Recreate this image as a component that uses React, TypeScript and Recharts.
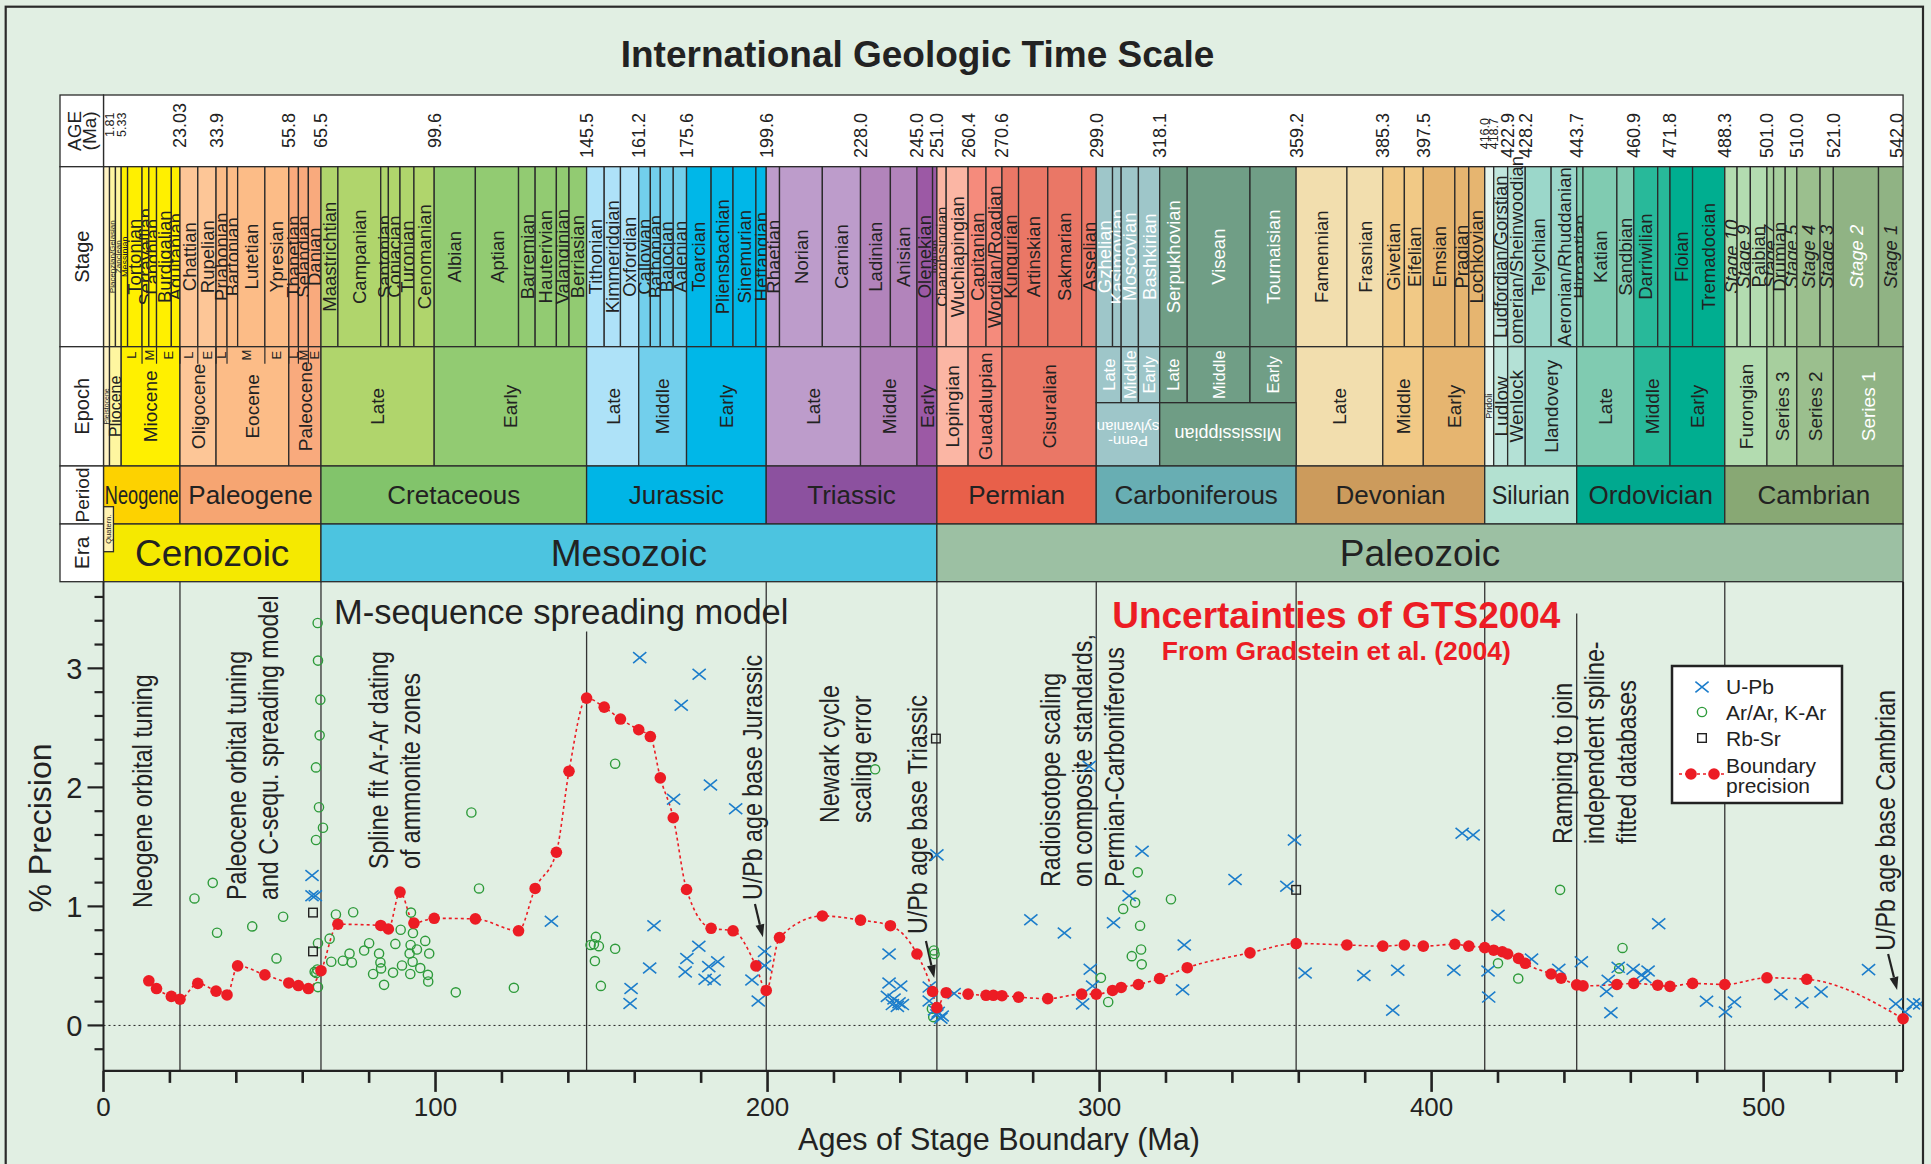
import React from "react";
import {
  ComposedChart,
  Line,
  Scatter,
  XAxis,
  YAxis,
  ReferenceArea,
  ReferenceLine,
  ReferenceDot,
} from "recharts";

// ---------- data ----------

const eras = [
  { name: "Cenozoic", start: 0, end: 65.5 },
  { name: "Mesozoic", start: 65.5, end: 251.0 },
  { name: "Paleozoic", start: 251.0, end: 542.0 },
];

const periods = [
  { name: "Neogene", start: 0, end: 23.03 },
  { name: "Paleogene", start: 23.03, end: 65.5 },
  { name: "Cretaceous", start: 65.5, end: 145.5 },
  { name: "Jurassic", start: 145.5, end: 199.6 },
  { name: "Triassic", start: 199.6, end: 251.0 },
  { name: "Permian", start: 251.0, end: 299.0 },
  { name: "Carboniferous", start: 299.0, end: 359.2 },
  { name: "Devonian", start: 359.2, end: 416.0 },
  { name: "Silurian", start: 416.0, end: 443.7 },
  { name: "Ordovician", start: 443.7, end: 488.3 },
  { name: "Cambrian", start: 488.3, end: 542.0 },
];

const epochs = [
  { id: "Q1", name: "Pleistocene", start: 0, end: 1.81 },
  { id: "N2", name: "Pliocene", start: 1.81, end: 5.33 },
  { id: "N1", name: "Miocene", start: 5.33, end: 23.03 },
  { id: "Pg3", name: "Oligocene", start: 23.03, end: 33.9 },
  { id: "Pg2", name: "Eocene", start: 33.9, end: 55.8 },
  { id: "Pg1", name: "Paleocene", start: 55.8, end: 65.5 },
  { id: "K2", name: "Late", start: 65.5, end: 99.6 },
  { id: "K1", name: "Early", start: 99.6, end: 145.5 },
  { id: "J3", name: "Late", start: 145.5, end: 161.2 },
  { id: "J2", name: "Middle", start: 161.2, end: 175.6 },
  { id: "J1", name: "Early", start: 175.6, end: 199.6 },
  { id: "T3", name: "Late", start: 199.6, end: 228.0 },
  { id: "T2", name: "Middle", start: 228.0, end: 245.0 },
  { id: "T1", name: "Early", start: 245.0, end: 251.0 },
  { id: "P3", name: "Lopingian", start: 251.0, end: 260.4 },
  { id: "P2", name: "Guadalupian", start: 260.4, end: 270.6 },
  { id: "P1", name: "Cisuralian", start: 270.6, end: 299.0 },
  { id: "C3P", name: "Late", start: 299.0, end: 306.5 },
  { id: "C2P", name: "Middle", start: 306.5, end: 311.7 },
  { id: "C1P", name: "Early", start: 311.7, end: 318.1 },
  { id: "C3M", name: "Late", start: 318.1, end: 326.4 },
  { id: "C2M", name: "Middle", start: 326.4, end: 345.3 },
  { id: "C1M", name: "Early", start: 345.3, end: 359.2 },
  { id: "D3", name: "Late", start: 359.2, end: 385.3 },
  { id: "D2", name: "Middle", start: 385.3, end: 397.5 },
  { id: "D1", name: "Early", start: 397.5, end: 416.0 },
  { id: "S4", name: "Pridoli", start: 416.0, end: 418.7 },
  { id: "S3", name: "Ludlow", start: 418.7, end: 422.9 },
  { id: "S2", name: "Wenlock", start: 422.9, end: 428.2 },
  { id: "S1", name: "Llandovery", start: 428.2, end: 443.7 },
  { id: "O3", name: "Late", start: 443.7, end: 460.9 },
  { id: "O2", name: "Middle", start: 460.9, end: 471.8 },
  { id: "O1", name: "Early", start: 471.8, end: 488.3 },
  { id: "Cm4", name: "Furongian", start: 488.3, end: 501.0 },
  { id: "Cm3", name: "Series 3", start: 501.0, end: 510.0 },
  { id: "Cm2", name: "Series 2", start: 510.0, end: 521.0 },
  { id: "Cm1", name: "Series 1", start: 521.0, end: 542.0 },
];

const carbSubperiods = [
  { id: "Penn", name: ["Penn-", "sylvanian"], start: 299.0, end: 318.1 },
  { id: "Miss", name: ["Mississippian"], start: 318.1, end: 359.2 },
];

const subEpochs = [
  { name: "L", start: 5.33, end: 11.61 },
  { name: "M", start: 11.61, end: 15.97 },
  { name: "E", start: 15.97, end: 23.03 },
  { name: "L", start: 23.03, end: 28.4 },
  { name: "E", start: 28.4, end: 33.9 },
  { name: "L", start: 33.9, end: 37.2 },
  { name: "M", start: 37.2, end: 48.6 },
  { name: "E", start: 48.6, end: 55.8 },
  { name: "L", start: 55.8, end: 58.7 },
  { name: "M", start: 58.7, end: 61.7 },
  { name: "E", start: 61.7, end: 65.5 },
];

const stages = [
  { name: "", start: 0, end: 1.81 },
  { name: "Piacenzian/Gelasian", start: 1.81, end: 3.6 },
  { name: "Zanclean", start: 3.6, end: 5.33 },
  { name: "Messinian", start: 5.33, end: 7.25 },
  { name: "Tortonian", start: 7.25, end: 11.61 },
  { name: "Serravallian", start: 11.61, end: 13.65 },
  { name: "Langhian", start: 13.65, end: 15.97 },
  { name: "Burdigalian", start: 15.97, end: 20.43 },
  { name: "Aquitanian", start: 20.43, end: 23.03 },
  { name: "Chattian", start: 23.03, end: 28.4 },
  { name: "Rupelian", start: 28.4, end: 33.9 },
  { name: "Priabonian", start: 33.9, end: 37.2 },
  { name: "Bartonian", start: 37.2, end: 40.4 },
  { name: "Lutetian", start: 40.4, end: 48.6 },
  { name: "Ypresian", start: 48.6, end: 55.8 },
  { name: "Thanetian", start: 55.8, end: 58.7 },
  { name: "Selandian", start: 58.7, end: 61.7 },
  { name: "Danian", start: 61.7, end: 65.5 },
  { name: "Maastrichtian", start: 65.5, end: 70.6 },
  { name: "Campanian", start: 70.6, end: 83.5 },
  { name: "Santonian", start: 83.5, end: 85.8 },
  { name: "Coniacian", start: 85.8, end: 89.3 },
  { name: "Turonian", start: 89.3, end: 93.5 },
  { name: "Cenomanian", start: 93.5, end: 99.6 },
  { name: "Albian", start: 99.6, end: 112.0 },
  { name: "Aptian", start: 112.0, end: 125.0 },
  { name: "Barremian", start: 125.0, end: 130.0 },
  { name: "Hauterivian", start: 130.0, end: 136.4 },
  { name: "Valanginian", start: 136.4, end: 140.2 },
  { name: "Berriasian", start: 140.2, end: 145.5 },
  { name: "Tithonian", start: 145.5, end: 150.8 },
  { name: "Kimmeridgian", start: 150.8, end: 155.7 },
  { name: "Oxfordian", start: 155.7, end: 161.2 },
  { name: "Callovian", start: 161.2, end: 164.7 },
  { name: "Bathonian", start: 164.7, end: 167.7 },
  { name: "Bajocian", start: 167.7, end: 171.6 },
  { name: "Aalenian", start: 171.6, end: 175.6 },
  { name: "Toarcian", start: 175.6, end: 183.0 },
  { name: "Pliensbachian", start: 183.0, end: 189.6 },
  { name: "Sinemurian", start: 189.6, end: 196.5 },
  { name: "Hettangian", start: 196.5, end: 199.6 },
  { name: "Rhaetian", start: 199.6, end: 203.6 },
  { name: "Norian", start: 203.6, end: 216.5 },
  { name: "Carnian", start: 216.5, end: 228.0 },
  { name: "Ladinian", start: 228.0, end: 237.0 },
  { name: "Anisian", start: 237.0, end: 245.0 },
  { name: "Olenekian", start: 245.0, end: 249.7 },
  { name: "Induan", start: 249.7, end: 251.0 },
  { name: "Changhsingian", start: 251.0, end: 253.8 },
  { name: "Wuchiapingian", start: 253.8, end: 260.4 },
  { name: "Capitanian", start: 260.4, end: 265.8 },
  { name: "Wordian/Roadian", start: 265.8, end: 270.6 },
  { name: "Kungurian", start: 270.6, end: 275.6 },
  { name: "Artinskian", start: 275.6, end: 284.4 },
  { name: "Sakmarian", start: 284.4, end: 294.6 },
  { name: "Asselian", start: 294.6, end: 299.0 },
  { name: "Gzhelian", start: 299.0, end: 303.9 },
  { name: "Kasimovian", start: 303.9, end: 306.5 },
  { name: "Moscovian", start: 306.5, end: 311.7 },
  { name: "Bashkirian", start: 311.7, end: 318.1 },
  { name: "Serpukhovian", start: 318.1, end: 326.4 },
  { name: "Visean", start: 326.4, end: 345.3 },
  { name: "Tournaisian", start: 345.3, end: 359.2 },
  { name: "Famennian", start: 359.2, end: 374.5 },
  { name: "Frasnian", start: 374.5, end: 385.3 },
  { name: "Givetian", start: 385.3, end: 391.8 },
  { name: "Eifelian", start: 391.8, end: 397.5 },
  { name: "Emsian", start: 397.5, end: 407.0 },
  { name: "Pragian", start: 407.0, end: 411.2 },
  { name: "Lochkovian", start: 411.2, end: 416.0 },
  { name: "", start: 416.0, end: 418.7 },
  { name: "Ludfordian/Gorstian", start: 418.7, end: 422.9 },
  { name: "Homerian/Sheinwoodian", start: 422.9, end: 428.2 },
  { name: "Telychian", start: 428.2, end: 436.0 },
  { name: "Aeronian/Rhuddanian", start: 436.0, end: 443.7 },
  { name: "Hirnantian", start: 443.7, end: 445.6 },
  { name: "Katian", start: 445.6, end: 455.8 },
  { name: "Sandbian", start: 455.8, end: 460.9 },
  { name: "Darriwilian", start: 460.9, end: 468.1 },
  { name: "", start: 468.1, end: 471.8 },
  { name: "Floian", start: 471.8, end: 478.6 },
  { name: "Tremadocian", start: 478.6, end: 488.3 },
  { name: "Stage 10", start: 488.3, end: 492.0 },
  { name: "Stage 9", start: 492.0, end: 496.0 },
  { name: "Paibian", start: 496.0, end: 501.0 },
  { name: "Stage 7", start: 501.0, end: 503.0 },
  { name: "Drumian", start: 503.0, end: 506.5 },
  { name: "Stage 5", start: 506.5, end: 510.0 },
  { name: "Stage 4", start: 510.0, end: 517.0 },
  { name: "Stage 3", start: 517.0, end: 521.0 },
  { name: "Stage 2", start: 521.0, end: 534.6 },
  { name: "Stage 1", start: 534.6, end: 542.0 },
];

const ageLabels = [
  "1.81", "5.33", "23.03", "33.9", "55.8", "65.5", "99.6", "145.5", "161.2",
  "175.6", "199.6", "228.0", "245.0", "251.0", "260.4", "270.6", "299.0",
  "318.1", "359.2", "385.3", "397.5", "416.0", "418.7", "422.9", "428.2",
  "443.7", "460.9", "471.8", "488.3", "501.0", "510.0", "521.0", "542.0",
];

// boundaries drawn as vertical lines in the precision plot
const dividers = [23.03, 65.5, 145.5, 199.6, 251.0, 299.0, 359.2, 416.0, 443.7, 488.3, 542.0];

// boundary precision (% of age)
const boundaryAge = [
  13.65, 15.97, 20.43, 23.03, 28.4, 33.9, 37.2, 40.4, 48.6, 55.8, 58.7, 61.7, 65.5,
  70.6, 83.5, 85.8, 89.3, 93.5, 99.6, 112.0, 125.0, 130.0, 136.4, 140.2, 145.5,
  150.8, 155.7, 161.2, 164.7, 167.7, 171.6, 175.6, 183.0, 189.6, 196.5, 199.6,
  203.6, 216.5, 228.0, 237.0, 245.0, 249.7, 251.0, 253.8, 260.4, 265.8, 268.0,
  270.6, 275.6, 284.4, 294.6, 299.0, 303.9, 306.5, 311.7, 318.1, 326.4, 345.3,
  359.2, 374.5, 385.3, 391.8, 397.5, 407.0, 411.2, 416.0, 418.7, 421.3, 422.9,
  426.2, 428.2, 436.0, 439.0, 443.7, 445.6, 455.8, 460.9, 468.1, 471.8, 478.6,
  488.3, 501.0, 513.0, 542.0,
];
const boundaryPrecision = [
  0.375, 0.31, 0.244, 0.22, 0.353, 0.288, 0.256, 0.5, 0.425, 0.357, 0.335, 0.31, 0.46,
  0.85, 0.84, 0.81, 1.12, 0.86, 0.9, 0.895, 0.795, 1.151, 1.455, 2.136, 2.75,
  2.674, 2.574, 2.484, 2.427, 2.08, 1.745, 1.142, 0.816, 0.795, 0.5, 0.294,
  0.738, 0.92, 0.885, 0.838, 0.6, 0.285, 0.15, 0.275, 0.263, 0.253, 0.253,
  0.25, 0.238, 0.225, 0.263, 0.263, 0.294, 0.319, 0.344, 0.394, 0.485, 0.61,
  0.688, 0.676, 0.666, 0.676, 0.666, 0.682, 0.666, 0.654, 0.632, 0.619, 0.6,
  0.563, 0.522, 0.432, 0.397, 0.341, 0.332, 0.344, 0.353, 0.338, 0.328, 0.353,
  0.344, 0.4, 0.388, 0.056,
];

// [age Ma, precision %]
const uPb = [
  [62.8, 1.26], [62.8, 1.09], [63.8, 1.09],
  [134.9, 0.876], [158.9, 0.31], [158.6, 0.185], [161.5, 3.09], [164.5, 0.482],
  [165.8, 0.838], [171.7, 1.9], [174.0, 2.69], [175.7, 0.563], [175.2, 0.45],
  [179.4, 2.95], [179.3, 0.666], [181.2, 0.388], [182.3, 0.494], [182.8, 2.02],
  [183.9, 0.382], [185.0, 0.535], [190.4, 1.82], [195.3, 0.382], [197.2, 0.206],
  [199.1, 0.622], [199.1, 0.504],
  [236.6, 0.6], [236.6, 0.357], [240.1, 0.332], [236.1, 0.244], [238.1, 0.222],
  [239.6, 0.191], [240.6, 0.175], [237.6, 0.175], [239.1, 0.16],
  [251.0, 1.433], [248.7, 0.322], [248.7, 0.206], [251.4, 0.11], [252.6, 0.08],
  [251.0, 0.09], [252.2, 0.06], [250.3, 0.13], [256.2, 0.269],
  [279.3, 0.888], [289.4, 0.776], [296.9, 2.177], [297.2, 0.472], [297.9, 0.332],
  [294.9, 0.181], [312.8, 1.464], [308.9, 1.089], [304.2, 0.863], [325.5, 0.676],
  [325.0, 0.3], [340.8, 1.226], [358.7, 1.558], [356.4, 1.17], [361.9, 0.441],
  [379.6, 0.419], [388.3, 0.128], [389.8, 0.463], [406.7, 0.463], [409.2, 1.614],
  [412.5, 1.6],
  [420.0, 0.926], [417.0, 0.457], [417.2, 0.238], [430.1, 0.557], [438.3, 0.472],
  [445.1, 0.535], [452.7, 0.285], [454.0, 0.106], [453.2, 0.379], [456.2, 0.488],
  [460.7, 0.472], [463.2, 0.425], [465.2, 0.457], [464.2, 0.4], [468.4, 0.854],
  [482.8, 0.203], [488.5, 0.113], [491.2, 0.197], [505.2, 0.26], [511.5, 0.191],
  [517.3, 0.282], [531.6, 0.469], [539.8, 0.181], [542.6, 0.113], [545.1, 0.181],
  [547.0, 0.181],
];

const arAr = [
  [27.4, 1.067], [32.9, 1.198], [34.2, 0.779], [44.8, 0.832], [52.1, 0.563], [54.1, 0.913],
  [64.5, 3.381], [64.6, 3.065], [65.3, 2.737], [65.1, 2.437], [64.0, 2.168], [64.9, 1.833],
  [66.1, 1.661], [64.0, 1.558], [68.1, 0.729], [64.6, 0.691], [63.6, 0.45], [64.1, 0.44],
  [64.4, 0.47], [64.6, 0.322], [68.6, 0.535], [70.0, 0.932], [72.1, 0.544], [74.1, 0.604],
  [74.8, 0.529], [75.2, 0.951], [78.5, 0.629], [80.0, 0.691], [81.2, 0.432], [83.0, 0.604],
  [83.4, 0.529], [83.6, 0.479], [84.5, 0.341], [87.2, 0.444], [87.9, 0.685], [89.5, 0.804],
  [89.9, 0.504], [92.6, 0.948], [93.2, 0.776], [92.5, 0.676], [92.2, 0.604], [93.1, 0.535],
  [94.4, 0.638], [92.4, 0.432], [95.4, 0.482], [96.9, 0.71], [98.1, 0.604], [97.7, 0.425],
  [97.8, 0.369], [106.1, 0.278], [110.8, 1.789], [113.1, 1.151], [123.6, 0.316],
  [154.1, 2.199], [148.3, 0.744], [146.7, 0.676], [147.7, 0.682], [149.2, 0.666],
  [154.1, 0.644], [148.0, 0.541], [149.8, 0.332],
  [232.4, 2.152], [250.1, 0.63], [250.3, 0.6], [249.5, 0.14], [249.9, 0.07],
  [311.5, 1.286], [321.5, 1.06], [307.1, 0.979], [310.7, 1.032], [312.2, 0.838],
  [309.7, 0.582], [312.5, 0.638], [312.7, 0.513], [300.4, 0.4], [302.6, 0.197],
  [438.7, 1.139], [420.0, 0.522], [426.1, 0.394], [457.5, 0.651], [456.5, 0.479],
];

const rbSr = [[63.1, 0.948], [63.1, 0.622], [250.7, 2.41], [359.2, 1.139]];

const notes = [
  { age: 11.9, p: 0.987, lines: ["Neogene orbital tuning"] },
  { age: 40.2, p: 1.054, lines: ["Paleocene orbital tuning", "and C-sequ. spreading model"] },
  { age: 82.7, p: 1.314, lines: ["Spline fit Ar-Ar dating", "of ammonite zones"] },
  { age: 195.6, p: 1.054, lines: ["U/Pb age base Jurassic"] },
  { age: 218.8, p: 1.7, lines: ["Newark cycle", "scaling error"] },
  { age: 245.3, p: 0.769, lines: ["U/Pb age base Triassic"] },
  { age: 285.1, p: 1.163, lines: ["Radioisotope scaling", "on composite standards,", "Permian-Carboniferous"] },
  { age: 439.3, p: 1.524, lines: ["Ramping to join", "independent spline-", "fitted databases"] },
  { age: 536.6, p: 0.628, lines: ["U/Pb age base Cambrian"] },
];

const arrows = [
  { from: [196.2, 1.02], to: [198.6, 0.74] },
  { from: [247.7, 0.709], to: [250.2, 0.398] },
  { from: [537.5, 0.6], to: [540.2, 0.298] },
];

const xTicks = Array.from({ length: 28 }, (_, i) => i * 20);
const yTicks = Array.from({ length: 20 }, (_, i) => Math.round((i * 0.2 - 0.2) * 10) / 10);

// ---------- layout / styles ----------

const W = 1931;
const H = 1164;
const LEFT = 103.5;
const RIGHT = 8;
const MA_MAX = 548;
const HEADER_TOP = 95;
const HEADER_H = 486.7;
const PLOT_TOP = HEADER_TOP + HEADER_H;
const PLOT_BOTTOM = 1070.9;
const Y_MIN = -0.382;
const Y_MAX = 3.728;

const FONT = "'Liberation Sans', Arial, Helvetica, sans-serif";
const INK = "#222";
const BG = "#e1efe3";
const BLUE = "#1c7dcb";
const GREEN = "#2e9b3b";
const RED = "#ec1c24";

const ROW = {
  age: [0, 71.7],
  stage: [71.7, 251.7],
  epoch: [251.7, 371],
  split: 307.7,
  period: [371, 429],
  era: [429, 486.7],
};

const eraFill: Record<string, string> = {
  Cenozoic: "#f5e900",
  Mesozoic: "#4cc4e0",
  Paleozoic: "#9cc0a3",
};
const periodFill: Record<string, string> = {
  Neogene: "#fdd200",
  Paleogene: "#f6a572",
  Cretaceous: "#82c46b",
  Jurassic: "#00b5e6",
  Triassic: "#8c519f",
  Permian: "#e8604a",
  Carboniferous: "#68aeb3",
  Devonian: "#cc9b5c",
  Silurian: "#b3e1d1",
  Ordovician: "#00a98f",
  Cambrian: "#88a874",
};
const epochFill: Record<string, string> = {
  Q1: "#fff3c4", N2: "#fef6a0", N1: "#fff000",
  Pg3: "#fdc697", Pg2: "#fcbc87", Pg1: "#f9aa7d",
  K2: "#b0d56c", K1: "#92cb72",
  J3: "#aee2f8", J2: "#72cfec", J1: "#00b7e8",
  T3: "#bd9ccb", T2: "#b284bb", T1: "#9c59a5",
  P3: "#fbb6a4", P2: "#f58b7c", P1: "#ea7766",
  C3P: "#9ec6c9", C2P: "#9ec6c9", C1P: "#9ec6c9",
  C3M: "#709e86", C2M: "#709e86", C1M: "#709e86",
  Penn: "#9ec6c9", Miss: "#6f9d85",
  D3: "#f2deae", D2: "#f1c986", D1: "#e6b570",
  S4: "#e4f4ee", S3: "#c0e6dd", S2: "#b4e1d6", S1: "#9bd7ca",
  O3: "#80cbb1", O2: "#28b99a", O1: "#00ae90",
  Cm4: "#b3dcb0", Cm3: "#a7cf9e", Cm2: "#9bbf8e", Cm1: "#90b384",
};
const whiteText = new Set([
  "Gzhelian", "Kasimovian", "Moscovian", "Bashkirian", "Serpukhovian", "Visean",
  "Tournaisian", "Stage 2", "C3P", "C2P", "C1P", "C3M", "C2M", "C1M", "Penn", "Miss", "Cm1",
]);
const stageSize: Record<string, number> = {
  "Piacenzian/Gelasian": 8,
  Zanclean: 8,
  Messinian: 9,
  Induan: 11,
  Changhsingian: 15,
};
const epochSize: Record<string, number> = { Pleistocene: 7, Pliocene: 16, Pridoli: 9 };
const smallAges = new Set(["1.81", "5.33", "416.0", "418.7"]);

const epochOf = (mid: number) => epochs.find((e) => mid >= e.start && mid < e.end);

type CellOpts = {
  label?: string | string[];
  fill: string;
  color?: string;
  size?: number;
  rotate?: number;
  italic?: boolean;
  squeeze?: number;
};

const cellShape = (o: CellOpts) => (p: any) => {
  const { x, y, width, height } = p;
  const cx = x + width / 2;
  const cy = y + height / 2;
  const lines = !o.label ? [] : Array.isArray(o.label) ? o.label : [o.label];
  const size = o.size ?? 18.5;
  return (
    <g>
      <rect x={x} y={y} width={width} height={height} fill={o.fill} stroke="#2b2b2b" strokeWidth={1.3} />
      {lines.length > 0 && (
        <text
          transform={`translate(${cx},${cy}) rotate(${o.rotate ?? 0}) scale(${o.squeeze ?? 1},1)`}
          textAnchor="middle"
          fontSize={size}
          fill={o.color ?? INK}
          fontFamily={FONT}
          fontStyle={o.italic ? "italic" : "normal"}
        >
          {lines.map((l, i) => (
            <tspan key={i} x={0} y={(i - (lines.length - 1) / 2) * size * 0.95 + size * 0.36}>
              {l}
            </tspan>
          ))}
        </text>
      )}
    </g>
  );
};

const XTick = (props: any) => {
  const { x, y, payload } = props;
  const v = payload.value;
  const major = v % 100 === 0;
  return (
    <g>
      <line x1={x} y1={y} x2={x} y2={y + (major ? 21 : 12)} stroke={INK} strokeWidth={2.6} />
      {major && (
        <text x={x} y={y + 45} textAnchor="middle" fontSize={26} fill={INK} fontFamily={FONT}>
          {v}
        </text>
      )}
    </g>
  );
};

const YTick = (props: any) => {
  const { x, y, payload } = props;
  const v = payload.value;
  const major = Number.isInteger(v);
  return (
    <g>
      <line x1={x - (major ? 16 : 9)} y1={y} x2={x} y2={y} stroke={INK} strokeWidth={2.2} />
      {major && (
        <text x={x - 21} y={y + 10.5} textAnchor="end" fontSize={29} fill={INK} fontFamily={FONT}>
          {v}
        </text>
      )}
    </g>
  );
};

const XMark = (p: any) => {
  const { cx, cy } = p;
  const a = 6.6;
  const b = 5.4;
  return (
    <path
      d={`M${cx - a},${cy - b}L${cx + a},${cy + b}M${cx - a},${cy + b}L${cx + a},${cy - b}`}
      stroke={BLUE}
      strokeWidth={1.6}
      fill="none"
    />
  );
};
const OMark = (p: any) => <circle cx={p.cx} cy={p.cy} r={4.6} stroke={GREEN} strokeWidth={1.4} fill="none" />;
const SMark = (p: any) => (
  <rect x={p.cx - 4.3} y={p.cy - 4.3} width={8.6} height={8.6} stroke={INK} strokeWidth={1.4} fill="none" />
);

const NOTE_SIZE = 27;
const NOTE_GAP = 32;
const noteShape = (lines: string[]) => (p: any) => (
  <g>
    {lines.map((l, i) => (
      <text
        key={i}
        transform={`translate(${p.cx + i * NOTE_GAP},${p.cy}) rotate(-90) scale(0.86,1)`}
        dy={NOTE_SIZE * 0.35}
        fontSize={NOTE_SIZE}
        fill={INK}
        fontFamily={FONT}
      >
        {l}
      </text>
    ))}
  </g>
);

const arrowShape = (p: any) => {
  const { x1, y1, x2, y2 } = p;
  const a = Math.atan2(y2 - y1, x2 - x1);
  const L = 13;
  const hw = 4.5;
  const bx = x2 - L * Math.cos(a);
  const by = y2 - L * Math.sin(a);
  const nx = -Math.sin(a) * hw;
  const ny = Math.cos(a) * hw;
  return (
    <g>
      <line x1={x1} y1={y1} x2={bx} y2={by} stroke={INK} strokeWidth={2.2} />
      <path d={`M${x2},${y2}L${bx + nx},${by + ny}L${bx - nx},${by - ny}Z`} fill={INK} />
    </g>
  );
};

const toPts = (rows: number[][]) => rows.map(([age, p]) => ({ age, p }));

function Header() {
  return (
    <ComposedChart
      width={W}
      height={H}
      data={stages}
      margin={{ top: HEADER_TOP, bottom: H - PLOT_TOP, left: LEFT, right: RIGHT }}
    >
      <XAxis type="number" dataKey="age" domain={[0, MA_MAX]} hide allowDataOverflow />
      <YAxis type="number" dataKey="p" domain={[0, HEADER_H]} reversed hide allowDataOverflow />

      <ReferenceArea x1={0} x2={542} y1={ROW.age[0]} y2={ROW.age[1]} ifOverflow="visible"
        shape={cellShape({ fill: "#ffffff" })} />

      {stages.map((s) => {
        const ep = epochOf((s.start + s.end) / 2);
        return (
          <ReferenceArea
            key={`st-${s.start}`}
            x1={s.start}
            x2={s.end}
            y1={ROW.stage[0]}
            y2={ROW.stage[1]}
            ifOverflow="visible"
            shape={cellShape({
              label: s.name,
              fill: ep ? epochFill[ep.id] : "#fff",
              rotate: -90,
              size: stageSize[s.name] ?? 18.5,
              color: whiteText.has(s.name) ? "#fff" : INK,
              italic: s.name.startsWith("Stage"),
            })}
          />
        );
      })}

      {epochs.map((e) => {
        const carb = /^C\d[PM]$/.test(e.id);
        return (
          <ReferenceArea
            key={`ep-${e.id}`}
            x1={e.start}
            x2={e.end}
            y1={ROW.epoch[0]}
            y2={carb ? ROW.split : ROW.epoch[1]}
            ifOverflow="visible"
            shape={cellShape({
              label: e.name,
              fill: epochFill[e.id],
              rotate: -90,
              size: carb ? 16.5 : epochSize[e.name] ?? 19,
              color: whiteText.has(e.id) ? "#fff" : INK,
            })}
          />
        );
      })}

      {carbSubperiods.map((c) => (
        <ReferenceArea
          key={`cs-${c.id}`}
          x1={c.start}
          x2={c.end}
          y1={ROW.split}
          y2={ROW.epoch[1]}
          ifOverflow="visible"
          shape={cellShape({
            label: c.name,
            fill: epochFill[c.id],
            rotate: 180,
            size: c.id === "Penn" ? 15 : 18,
            color: "#fff",
          })}
        />
      ))}

      {subEpochs.map((s) => (
        <ReferenceDot
          key={`se-${s.start}`}
          x={(s.start + s.end) / 2}
          y={ROW.epoch[0] + 8.5}
          r={0}
          ifOverflow="visible"
          shape={(p: any) => (
            <text transform={`translate(${p.cx},${p.cy}) rotate(-90)`} textAnchor="middle" dy={4.6}
              fontSize={13} fill={INK} fontFamily={FONT}>
              {s.name}
            </text>
          )}
        />
      ))}
      {subEpochs.slice(1).map((s) => (
        <ReferenceLine
          key={`sl-${s.start}`}
          segment={[{ x: s.start, y: ROW.epoch[0] }, { x: s.start, y: ROW.epoch[0] + 17 }]}
          stroke="#2b2b2b"
          strokeWidth={1.2}
          ifOverflow="visible"
        />
      ))}

      {periods.map((p) => (
        <ReferenceArea
          key={`pe-${p.name}`}
          x1={p.start}
          x2={p.end}
          y1={ROW.period[0]}
          y2={ROW.period[1]}
          ifOverflow="visible"
          shape={cellShape({
            label: p.name,
            fill: periodFill[p.name],
            size: 26,
            squeeze: p.name === "Neogene" ? 0.7 : p.name === "Silurian" ? 0.9 : 1,
          })}
        />
      ))}

      {eras.map((e) => (
        <ReferenceArea
          key={`er-${e.name}`}
          x1={e.start}
          x2={e.end}
          y1={ROW.era[0]}
          y2={ROW.era[1]}
          ifOverflow="visible"
          shape={cellShape({ label: e.name, fill: eraFill[e.name], size: 37 })}
        />
      ))}

      <ReferenceArea x1={0} x2={3.0} y1={411.7} y2={456.7} ifOverflow="visible"
        shape={cellShape({ label: "Quatern.", fill: "#fff2b2", rotate: -90, size: 7.5 })} />

      {ageLabels.map((s) => {
        const v = parseFloat(s);
        const small = smallAges.has(s);
        const size = small ? 12.5 : 18;
        const fromBottom = v < 100;
        const yOff = fromBottom ? (small ? 42 : 53) : small ? 23 : 18;
        return (
          <ReferenceDot
            key={`age-${s}`}
            x={v}
            y={yOff}
            r={0}
            ifOverflow="visible"
            shape={(p: any) => (
              <text
                transform={`translate(${v >= 542 ? p.cx - 7 : p.cx},${p.cy}) rotate(-90)`}
                textAnchor={fromBottom ? "start" : "end"}
                dy={size * 0.36}
                fontSize={size}
                fill={INK}
                fontFamily={FONT}
              >
                {s}
              </text>
            )}
          />
        );
      })}
    </ComposedChart>
  );
}

function Plot() {
  const boundary = boundaryAge.map((age, i) => ({ age, p: boundaryPrecision[i] }));
  return (
    <ComposedChart
      width={W}
      height={H}
      margin={{ top: PLOT_TOP, bottom: H - PLOT_BOTTOM - 1, left: LEFT - 1, right: RIGHT }}
    >
      <XAxis
        type="number"
        dataKey="age"
        domain={[0, MA_MAX]}
        ticks={xTicks}
        interval={0}
        height={1}
        tickSize={0}
        tickMargin={0}
        axisLine={false}
        tickLine={false}
        tick={<XTick />}
        allowDataOverflow
      />
      <YAxis
        type="number"
        dataKey="p"
        domain={[Y_MIN, Y_MAX]}
        ticks={yTicks}
        interval={0}
        width={1}
        tickSize={0}
        tickMargin={0}
        tickLine={false}
        axisLine={{ stroke: INK, strokeWidth: 2 }}
        tick={<YTick />}
        allowDataOverflow
      />

      {dividers.map((d) => (
        <ReferenceLine
          key={`dv-${d}`}
          segment={[
            { x: d, y: Y_MIN },
            { x: d, y: d === 145.5 ? 3.31 : d === 443.7 ? 3.46 : Y_MAX },
          ]}
          stroke={d === 542 ? INK : "#333"}
          strokeWidth={d === 542 ? 2 : 1.3}
          ifOverflow="visible"
        />
      ))}
      <ReferenceLine segment={[{ x: 0, y: Y_MIN }, { x: 542, y: Y_MIN }]} stroke={INK} strokeWidth={2.2} ifOverflow="visible" />
      <ReferenceLine segment={[{ x: 0, y: 0 }, { x: 542, y: 0 }]} stroke={INK} strokeWidth={1} strokeDasharray="2 3" ifOverflow="visible" />

      {notes.map((n) => (
        <ReferenceDot key={n.lines[0]} x={n.age} y={n.p} r={0} ifOverflow="visible" shape={noteShape(n.lines)} />
      ))}
      {arrows.map((a, i) => (
        <ReferenceLine
          key={`ar-${i}`}
          segment={[{ x: a.from[0], y: a.from[1] }, { x: a.to[0], y: a.to[1] }]}
          shape={arrowShape}
          ifOverflow="visible"
        />
      ))}

      <ReferenceDot
        x={69.4}
        y={3.372}
        r={0}
        ifOverflow="visible"
        shape={(p: any) => (
          <text x={p.cx} y={p.cy} fontSize={34.5} fill={INK} fontFamily={FONT}>
            M-sequence spreading model
          </text>
        )}
      />
      <ReferenceDot
        x={371.3}
        y={3.339}
        r={0}
        ifOverflow="visible"
        shape={(p: any) => (
          <g fontFamily={FONT} fontWeight="bold" fill={RED} textAnchor="middle">
            <text x={p.cx} y={p.cy} fontSize={37}>Uncertainties of GTS2004</text>
            <text x={p.cx} y={p.cy + 32} fontSize={26.5}>From Gradstein et al. (2004)</text>
          </g>
        )}
      />

      <Scatter name="Ar/Ar, K-Ar" data={toPts(arAr)} shape={OMark} isAnimationActive={false} />
      <Scatter name="U-Pb" data={toPts(uPb)} shape={XMark} isAnimationActive={false} />
      <Scatter name="Rb-Sr" data={toPts(rbSr)} shape={SMark} isAnimationActive={false} />
      <Line
        name="Boundary precision"
        data={boundary}
        dataKey="p"
        type="monotone"
        stroke={RED}
        strokeWidth={1.6}
        strokeDasharray="3 3"
        dot={{ r: 5.8, fill: RED, stroke: "none" }}
        isAnimationActive={false}
      />
    </ComposedChart>
  );
}

function Overlay() {
  const rows = [
    { lines: ["AGE", "(Ma)"], y0: ROW.age[0], y1: ROW.age[1], size: 19 },
    { lines: ["Stage"], y0: ROW.stage[0], y1: ROW.stage[1], size: 20 },
    { lines: ["Epoch"], y0: ROW.epoch[0], y1: ROW.epoch[1], size: 20 },
    { lines: ["Period"], y0: ROW.period[0], y1: ROW.period[1], size: 19 },
    { lines: ["Era"], y0: ROW.era[0], y1: ROW.era[1], size: 21 },
  ];
  const lx = 60;
  return (
    <svg width={W} height={H} style={{ position: "absolute", left: 0, top: 0, pointerEvents: "none" }}>
      <rect x={5.7} y={6.7} width={1917.3} height={1170} fill="none" stroke="#2a2a2a" strokeWidth={2.2} />
      <text x={917.5} y={66.5} textAnchor="middle" fontFamily={FONT} fontWeight="bold" fontSize={37} fill={INK}>
        International Geologic Time Scale
      </text>

      {rows.map((r) => {
        const cy = HEADER_TOP + (r.y0 + r.y1) / 2;
        const cx = (lx + LEFT) / 2;
        return (
          <g key={r.lines[0]}>
            <rect x={lx} y={HEADER_TOP + r.y0} width={LEFT - lx} height={r.y1 - r.y0} fill="#fff" stroke="#2b2b2b" strokeWidth={1.3} />
            <text transform={`translate(${cx},${cy}) rotate(-90)`} textAnchor="middle" fontSize={r.size} fill={INK} fontFamily={FONT}>
              {r.lines.map((l, i) => (
                <tspan key={i} x={0} y={(i - (r.lines.length - 1) / 2) * r.size * 0.8 + r.size * 0.36}>
                  {l}
                </tspan>
              ))}
            </text>
          </g>
        );
      })}

      <text transform="translate(40,828) rotate(-90)" textAnchor="middle" dy={11} fontSize={32} fill={INK} fontFamily={FONT}>
        %  Precision
      </text>
      <text x={999} y={1150} textAnchor="middle" fontSize={30.5} fill={INK} fontFamily={FONT}>
        Ages of Stage Boundary (Ma)
      </text>

      <g fontFamily={FONT} fontSize={21} fill={INK}>
        <rect x={1672} y={666} width={170} height={137} fill="#fff" stroke={INK} strokeWidth={2.5} />
        <path d="M1695.4,681.6L1708.6,692.4M1695.4,692.4L1708.6,681.6" stroke={BLUE} strokeWidth={1.6} />
        <text x={1726} y={694}>U-Pb</text>
        <circle cx={1702} cy={712} r={4.6} stroke={GREEN} strokeWidth={1.4} fill="none" />
        <text x={1726} y={720}>Ar/Ar, K-Ar</text>
        <rect x={1697.7} y={733.7} width={8.6} height={8.6} stroke={INK} strokeWidth={1.4} fill="none" />
        <text x={1726} y={746}>Rb-Sr</text>
        <line x1={1679} y1={774} x2={1724} y2={774} stroke={RED} strokeWidth={1.6} strokeDasharray="3 3" />
        <circle cx={1691} cy={774} r={5.8} fill={RED} />
        <circle cx={1714} cy={774} r={5.8} fill={RED} />
        <text x={1726} y={773}>Boundary</text>
        <text x={1726} y={793}>precision</text>
      </g>
    </svg>
  );
}

export default function App() {
  return (
    <div style={{ position: "relative", width: W, height: H, background: BG, overflow: "hidden" }}>
      <style>{"body{margin:0}"}</style>
      <div style={{ position: "absolute", left: 0, top: 0 }}>
        <Header />
      </div>
      <div style={{ position: "absolute", left: 0, top: 0 }}>
        <Plot />
      </div>
      <Overlay />
    </div>
  );
}
